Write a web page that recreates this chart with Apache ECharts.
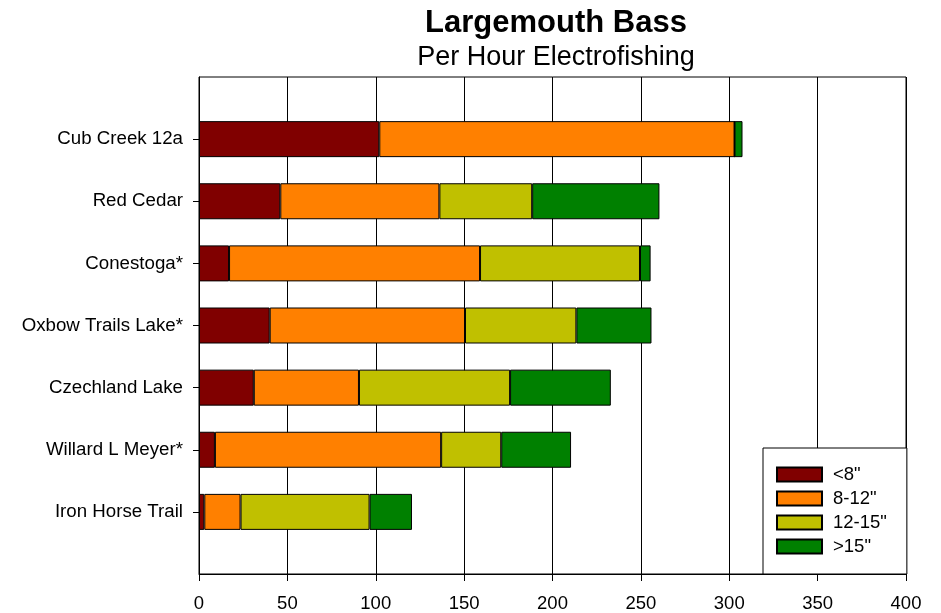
<!DOCTYPE html>
<html>
<head>
<meta charset="utf-8">
<script src="https://cdn.jsdelivr.net/npm/echarts@6/dist/echarts.min.js"></script>
<style>html,body{margin:0;padding:0;background:#fff;}#c{width:941px;height:613px;}</style>
</head>
<body>
<div id="c"></div>
<script>
const categories = ['Cub Creek 12a', 'Red Cedar', 'Conestoga*', 'Oxbow Trails Lake*', 'Czechland Lake', 'Willard L Meyer*', 'Iron Horse Trail'];
const seriesNames = ['<8"', '8-12"', '12-15"', '>15"'];
const lt8 = [102, 46, 17, 40, 31, 9, 3];
const s8to12 = [201, 90, 142, 110.5, 59.5, 128, 20.5];
const s12to15 = [0, 52.5, 90.5, 63, 85.5, 34, 73];
const gt15 = [4.5, 72, 6, 42.5, 57, 39.5, 24];
const colors = ['#800000', '#FF8000', '#C0C000', '#008000'];

const FONT = "'Liberation Sans', Arial, sans-serif";
// pad the category axis with an empty slot at each end
const yCats = [''].concat(categories, ['']);
const pad = arr => [null].concat(arr, [null]);
const allValues = [lt8, s8to12, s12to15, gt15];

const chart = echarts.init(document.getElementById('c'), null, {renderer: 'canvas'});
chart.setOption({
  animation: false,
  backgroundColor: '#fff',
  title: [
    {text: 'Largemouth Bass', left: 556, top: 8, textAlign: 'center', padding: 0,
     textStyle: {fontFamily: FONT, fontSize: 31, fontWeight: 'bold', color: '#000'}},
    {text: 'Per Hour Electrofishing', left: 556, top: 44, textAlign: 'center', padding: 0,
     textStyle: {fontFamily: FONT, fontSize: 27, fontWeight: 'normal', color: '#000'}}
  ],
  grid: {left: 199, right: 35, top: 77, bottom: 39, show: true, borderColor: '#000', borderWidth: 1, backgroundColor: 'transparent'},
  legend: {
    orient: 'vertical', left: 763, top: 448,
    padding: [17, 20, 18, 13],
    itemWidth: 45, itemHeight: 14, itemGap: 5,
    icon: 'rect',
    backgroundColor: '#fff', borderColor: '#000', borderWidth: 1,
    textStyle: {fontFamily: FONT, fontSize: 18.5, color: '#000', padding: [0, 0, 0, 6]},
    data: seriesNames
  },
  xAxis: {
    type: 'value', min: 0, max: 400, interval: 50,
    axisLine: {show: true, lineStyle: {color: '#000', width: 1}},
    axisTick: {show: true, inside: false, length: 7, lineStyle: {color: '#000'}},
    axisLabel: {fontFamily: FONT, fontSize: 18.5, color: '#000', margin: 20},
    splitLine: {show: true, lineStyle: {color: '#000', width: 1}}
  },
  yAxis: {
    type: 'category', data: yCats, inverse: true, boundaryGap: false,
    axisLine: {show: true, lineStyle: {color: '#000', width: 1}},
    axisTick: {show: true, length: 6, lineStyle: {color: '#000'},
      interval: (i) => i > 0 && i < yCats.length - 1},
    axisLabel: {fontFamily: FONT, fontSize: 18.7, color: '#000', margin: 16, interval: 0},
    splitLine: {show: false}
  },
  series: seriesNames.map((name, k) => ({
    name: name, type: 'bar', stack: 'total', barWidth: 36,
    data: pad(allValues[k]),
    itemStyle: {color: colors[k], borderColor: '#000', borderWidth: 1}
  }))
});
</script>
</body>
</html>
